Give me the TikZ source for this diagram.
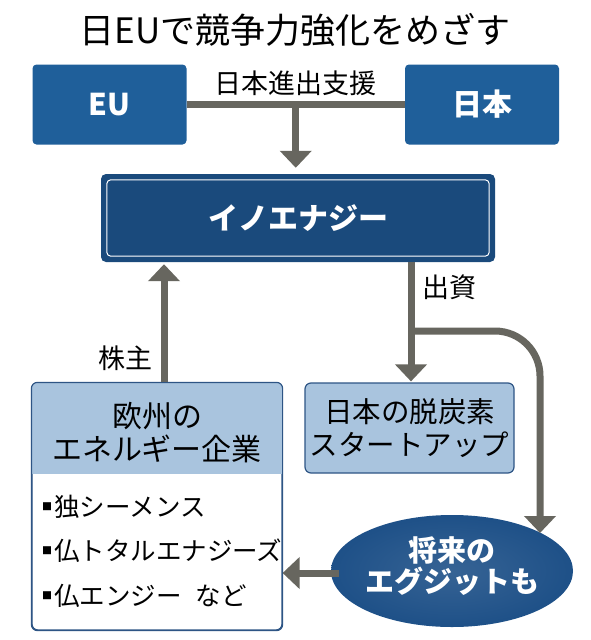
\documentclass[tikz,border=0pt]{standalone}
\usepackage{fontspec}
\setmainfont{Noto Sans CJK JP}
\usetikzlibrary{arrows.meta,shapes.geometric}
\definecolor{topblue}{HTML}{1F5F9A}
\definecolor{inoblue}{HTML}{1A4A7C}
\definecolor{lightblue}{HTML}{A9C4DE}
\definecolor{borderblue}{HTML}{2E5585}
\definecolor{arrowgray}{HTML}{67665F}
\definecolor{ellblue}{HTML}{1B4E86}
\pgfdeclareradialshading{fuzzyblue}{\pgfpoint{0bp}{0bp}}{color(0bp)=(ellblue!88!white); color(28bp)=(ellblue); color(37bp)=(ellblue); color(45bp)=(ellblue!45!white); color(50bp)=(white)}
\newcommand{\fs}[1]{\fontsize{#1}{#1}\selectfont}
\tikzset{
  topbox/.style={fill=topblue, rounded corners=4pt, minimum width=154pt, minimum height=80pt, text=white, font=\fs{30}\bfseries, inner sep=0pt},
  inobox/.style={fill=inoblue, rounded corners=5pt, minimum width=394pt, minimum height=88pt, text=white, font=\fs{30}\bfseries, inner sep=0pt},
  lightbox/.style={fill=lightblue, draw=borderblue, line width=1.2pt, rounded corners=6pt, inner sep=0pt},
  label/.style={font=\fs{27}, text=black, inner sep=0pt},
  boxtext/.style={font=\fs{30}, text=black, align=center, inner sep=0pt},
  listtext/.style={font=\fs{25.5}, text=black, anchor=west, inner sep=0pt},
  conn/.style={draw=arrowgray, line width=7pt},
  arr/.style={conn, -{Triangle[width=31pt,length=17pt]}},
}
\newcommand{\bul}{\raisebox{6pt}{\fs{10}■}\hspace{2pt}}
\begin{document}
\begin{tikzpicture}[x=1pt,y=-1pt]
\useasboundingbox[fill=white] (0,0) rectangle (590,640);
% title
\node[font=\fs{35}, inner sep=0pt] (title) at (295,30) {日EUで競争力強化をめざす};
% top boxes
\node[topbox] (eu) at (109.5,104.5) {EU};
\node[topbox] (jp) at (482,104.5) {日本};
\node[label] (support) at (295,83) {日本進出支援};
% ino
\node[inobox] (ino) at (298,218) {};
\draw[white, line width=1pt, rounded corners=4pt] ([shift={(6pt,6pt)}]ino.south west) rectangle ([shift={(-6pt,-6pt)}]ino.north east);
\node[text=white, font=\fs{30}\bfseries, inner sep=0pt] (inotext) at (ino.center) {イノエナジー};
% connectors top
\draw[conn] (eu.east) -- (jp.west) coordinate[pos=0.5] (mid);
\draw[arr, shorten >=6pt] (mid) -- (mid |- ino.north);
% europe box
\node[draw=borderblue, line width=1.2pt, fill=white, rounded corners=6pt, minimum width=250pt, minimum height=247pt, inner sep=0pt] (euro) at (157,506.5) {};
\begin{scope}
  \clip (euro.north west) rectangle ([xshift=2pt]euro.east |- 0,473);
  \fill[lightblue, rounded corners=6pt] (euro.north west) rectangle (euro.south east);
\end{scope}
\draw[borderblue, line width=1.2pt, rounded corners=6pt] (euro.north west) rectangle (euro.south east);
\node[boxtext] (eurotext) at (157,433) {欧州の\\[3pt]エネルギー企業};
\node[listtext] (l1) at (42,507) {\bul 独シーメンス};
\node[listtext] (l2) at (42,551) {\bul 仏トタルエナジーズ};
\node[listtext] (l3) at (42,596) {\bul 仏エンジー\hspace{14pt}など};
% startup box
\node[lightbox, minimum width=209pt, minimum height=90pt] (start) at (409.5,428) {};
\node[boxtext, font=\fs{28.5}] (starttext) at (start.center) {日本の脱炭素\\[4pt]スタートアップ};
% ellipse
\node[ellipse, minimum width=242pt, minimum height=112pt, inner sep=0pt, shading=fuzzyblue] (exit) at (452,571) {};
\node[text=white, font=\fs{29}\bfseries, align=center, inner sep=0pt] (exittext) at (452,566) {将来の\\[2pt]エグジットも};
% connectors
\draw[arr, shorten >=2pt] (euro.north -| 164,0) -- (ino.south -| 164,0);
\node[label] (holder) at (125,358) {株主};
\draw[arr, shorten >=1pt] (ino.south -| 411,0) -- (start.north -| 411,0);
\node[label] (invest) at (449,287) {出資};
\coordinate (branch) at (411,331);
\coordinate (exittip) at (540,533);
\draw[arr, rounded corners=45pt] (branch) -- (exittip |- branch) -- (exittip);
\draw[arr] (339,573) -- (euro.east |- 0,573) coordinate (lefttip);
\end{tikzpicture}
\end{document}
